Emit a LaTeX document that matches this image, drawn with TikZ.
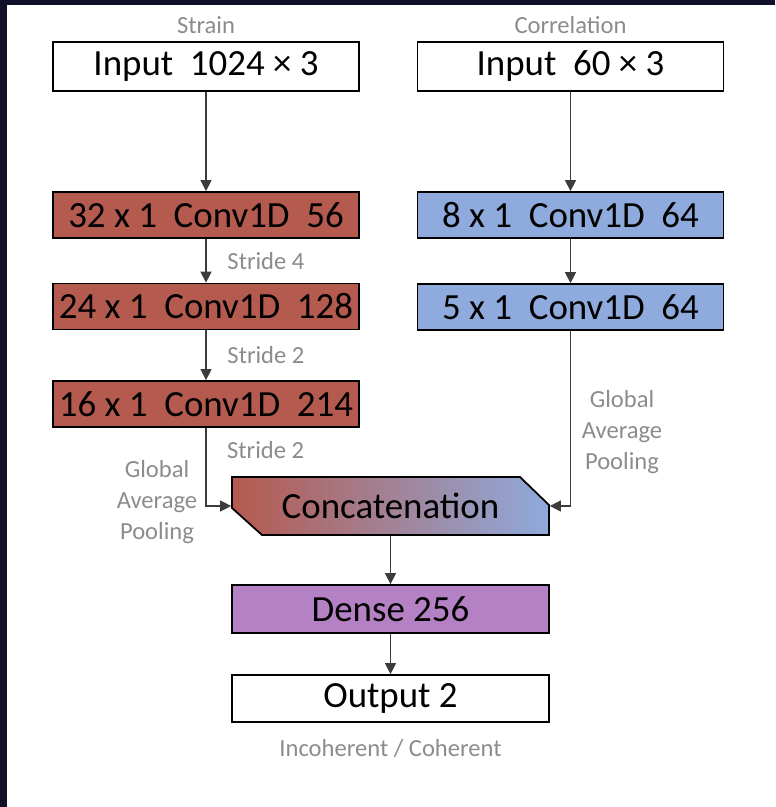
\documentclass[tikz,border=0pt]{standalone}
\usepackage{fontspec}
\setmainfont{Carlito}
\usetikzlibrary{arrows.meta}

\definecolor{navybg}{HTML}{10102A}
\definecolor{strainred}{HTML}{B55A4F}
\definecolor{corrblue}{HTML}{8FAADC}
\definecolor{densepurple}{HTML}{B381C4}
\definecolor{labelgray}{HTML}{8C8C8C}
\definecolor{wiregray}{HTML}{3C3C3C}

\tikzset{
  layer/.style={draw=black, line width=1pt, inner sep=0pt,
    minimum width=6.12cm, minimum height=0.92cm,
    font=\fontsize{21}{25}\selectfont},
  wire/.style={draw=wiregray, line width=0.7pt},
  note/.style={text=labelgray, font=\fontsize{14}{17.6}\selectfont, align=center},
  stride/.style={note, anchor=west, xshift=0.3cm}
}

\begin{document}
\begin{tikzpicture}[x=0.02cm,y=-0.02cm,>={Triangle[length=2.2mm,width=2.2mm]}]
  \fill[navybg] (0,0) rectangle (775,807);
  \fill[white] (7,5) rectangle (775,807);
  \useasboundingbox (0,0) rectangle (775,807);

  % inputs
  \node[layer, fill=white, minimum height=0.98cm] (inS) at (206,66.5) {Input~~1024 × 3};
  \node[layer, fill=white, minimum height=0.98cm] (inC) at (570.5,66.5) {Input~~60 × 3};
  \node[note] at (206,25) {Strain};
  \node[note] at (570.5,25) {Correlation};

  % strain branch
  \node[layer, fill=strainred] (s1) at (206,215) {32 x 1~~Conv1D~~56};
  \node[layer, fill=strainred] (s2) at (206,306.5) {24 x 1~~Conv1D~~128};
  \node[layer, fill=strainred] (s3) at (206,404) {16 x 1~~Conv1D~~214};

  % correlation branch
  \node[layer, fill=corrblue] (r1) at (570.5,215) {8 x 1~~Conv1D~~64};
  \node[layer, fill=corrblue] (r2) at (570.5,307) {5 x 1~~Conv1D~~64};

  % merge
  \shade[left color=strainred, right color=corrblue, draw=black, line width=1pt]
    (232,477) -- (520,477) -- (549,505) -- (549,535) -- (262,535) -- (232,508) -- cycle;
  \node[layer, draw=none, minimum width=6.34cm, minimum height=1.16cm] (cat) at (390.5,506) {Concatenation};

  \node[layer, fill=densepurple, minimum width=6.34cm, minimum height=0.96cm] (dense) at (390.5,609) {Dense 256};
  \node[layer, fill=white, minimum width=6.34cm, minimum height=0.94cm] (out) at (390.5,698.5) {Output 2};
  \node[note] at (390.5,748) {Incoherent / Coherent};

  % connectors
  \draw[wire,->] (inS) -- (s1);
  \draw[wire,->] (s1) -- node[stride] {Stride 4} (s2);
  \draw[wire,->] (s2) -- node[stride] {Stride 2} (s3);
  \draw[wire,->] (s3.south) |- (cat.west);
  \path (s3.south) ++(0,22) node[stride] {Stride 2};
  \node[note] at (157,502) {Global\\Average\\Pooling};

  \draw[wire,->] (inC) -- (r1);
  \draw[wire,->] (r1) -- (r2);
  \draw[wire,->] (r2.south) |- (cat.east);
  \node[note] at (622,432) {Global\\Average\\Pooling};

  \draw[wire,->] (cat) -- (dense);
  \draw[wire,->] (dense) -- (out);
\end{tikzpicture}
\end{document}
